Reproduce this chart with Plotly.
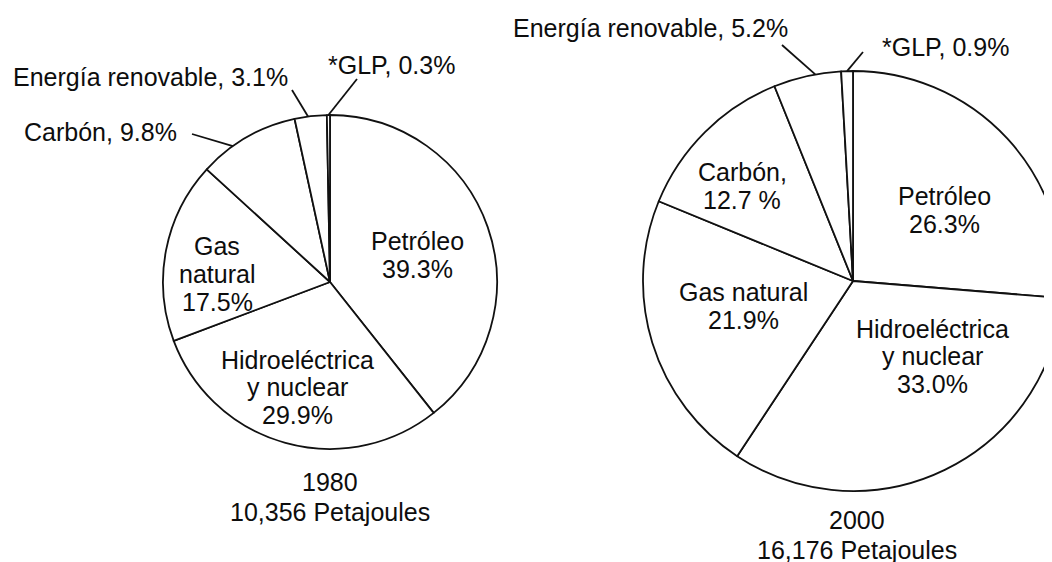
import math
import plotly.graph_objects as go

# ---------------- data ----------------
categories = ["Petróleo", "Hidroeléctrica y nuclear", "Gas natural", "Carbón",
              "Energía renovable", "*GLP"]
share_1980 = [39.3, 29.9, 17.5, 9.8, 3.1, 0.3]
share_2000 = [26.3, 33.0, 21.9, 12.7, 5.2, 0.9]
year_labels = ["1980", "2000"]
total_labels = ["10,356 Petajoules", "16,176 Petajoules"]

# label line templates (display text), one per category
lines_1980 = [["Petróleo", "{v}%"], ["Hidroeléctrica", "y nuclear", "{v}%"],
              ["Gas", "natural", "{v}%"], ["Carbón, {v}%"],
              ["Energía renovable, {v}%"], ["*GLP, {v}%"]]
lines_2000 = [["Petróleo", "{v}%"], ["Hidroeléctrica", "y nuclear", "{v}%"],
              ["Gas natural", "{v}%"], ["Carbón,", "{v} %"],
              ["Energía renovable, {v}%"], ["*GLP, {v}%"]]

# ---------------- layout geometry (screen pixels) ----------------
# The page body has an 8px margin; the figure is drawn wider than the
# window so that the right-hand pie is cut off at the window edge.
OFF = 8
FW, FH = 1100, 600
FONT = "Liberation Sans, Arial, Helvetica, sans-serif"
FS = 25
LS = 27.5
TXT = "#0d0d0d"
LINE = "#111111"

pies = [
    dict(values=share_1980, lines=lines_1980, cx=330, cy=282, r=167,
         label_pos=[(417, 255), (297, 387), (217, 274), (100, 132), (150, 77), (391, 65)],
         leader_end=[None, None, None, (192, 134), (292, 90), (357, 79)],
         leader_frac=[0.5, 0.5, 0.5, 0.34, 0.42, 0.5],
         title_pos=(330, 482)),
    dict(values=share_2000, lines=lines_2000, cx=853, cy=281, r=210,
         label_pos=[(944, 210), (932, 356), (743, 306), (742, 186), (650, 28), (945, 47)],
         leader_end=[None, None, None, None, (782, 45), (863, 52)],
         leader_frac=[0.5, 0.5, 0.5, 0.5, 0.62, 0.5],
         title_pos=(857, 520)),
]


def px(x):
    return (x - OFF) / FW


def py(y):
    return 1 - (y - OFF) / FH


fig = go.Figure()
annotations = []
shapes = []

for k, p in enumerate(pies):
    cx, cy, r = p["cx"], p["cy"], p["r"]
    fig.add_trace(go.Pie(
        labels=categories, values=p["values"], sort=False,
        direction="clockwise", rotation=0,
        marker=dict(colors=["white"] * len(categories),
                    line=dict(color=LINE, width=1.8)),
        textinfo="none", hoverinfo="label+value", showlegend=False,
        domain=dict(x=[px(cx - r), px(cx + r)], y=[py(cy + r), py(cy - r)]),
    ))
    total = sum(p["values"])
    cum = 0.0
    for i, v in enumerate(p["values"]):
        att = (cum + v * p["leader_frac"][i]) / total * 2 * math.pi
        cum += v
        lx, ly = p["label_pos"][i]
        lines = [t.format(v=f"{v:.1f}") for t in p["lines"][i]]
        n = len(lines)
        for j, t in enumerate(lines):
            yy = ly + (j - (n - 1) / 2) * LS
            annotations.append(dict(x=px(lx), y=py(yy), xref="paper", yref="paper",
                                    text=t, showarrow=False, xanchor="center",
                                    yanchor="middle",
                                    font=dict(family=FONT, size=FS, color=TXT)))
        end = p["leader_end"][i]
        if end is not None:
            sx = cx + r * math.sin(att)
            sy = cy - r * math.cos(att)
            shapes.append(dict(type="line", xref="paper", yref="paper",
                               x0=px(sx), y0=py(sy), x1=px(end[0]), y1=py(end[1]),
                               line=dict(color=LINE, width=1.8)))
    tx, ty = p["title_pos"]
    for j, t in enumerate([year_labels[k], total_labels[k]]):
        annotations.append(dict(x=px(tx), y=py(ty + j * 30), xref="paper", yref="paper",
                                text=t, showarrow=False, xanchor="center",
                                yanchor="middle",
                                font=dict(family=FONT, size=FS, color=TXT)))

fig.update_layout(
    width=FW, height=FH,
    margin=dict(l=0, r=0, t=0, b=0),
    paper_bgcolor="white", plot_bgcolor="white",
    annotations=annotations, shapes=shapes,
    font=dict(family=FONT, color=TXT),
)

fig.write_html("out.html")
